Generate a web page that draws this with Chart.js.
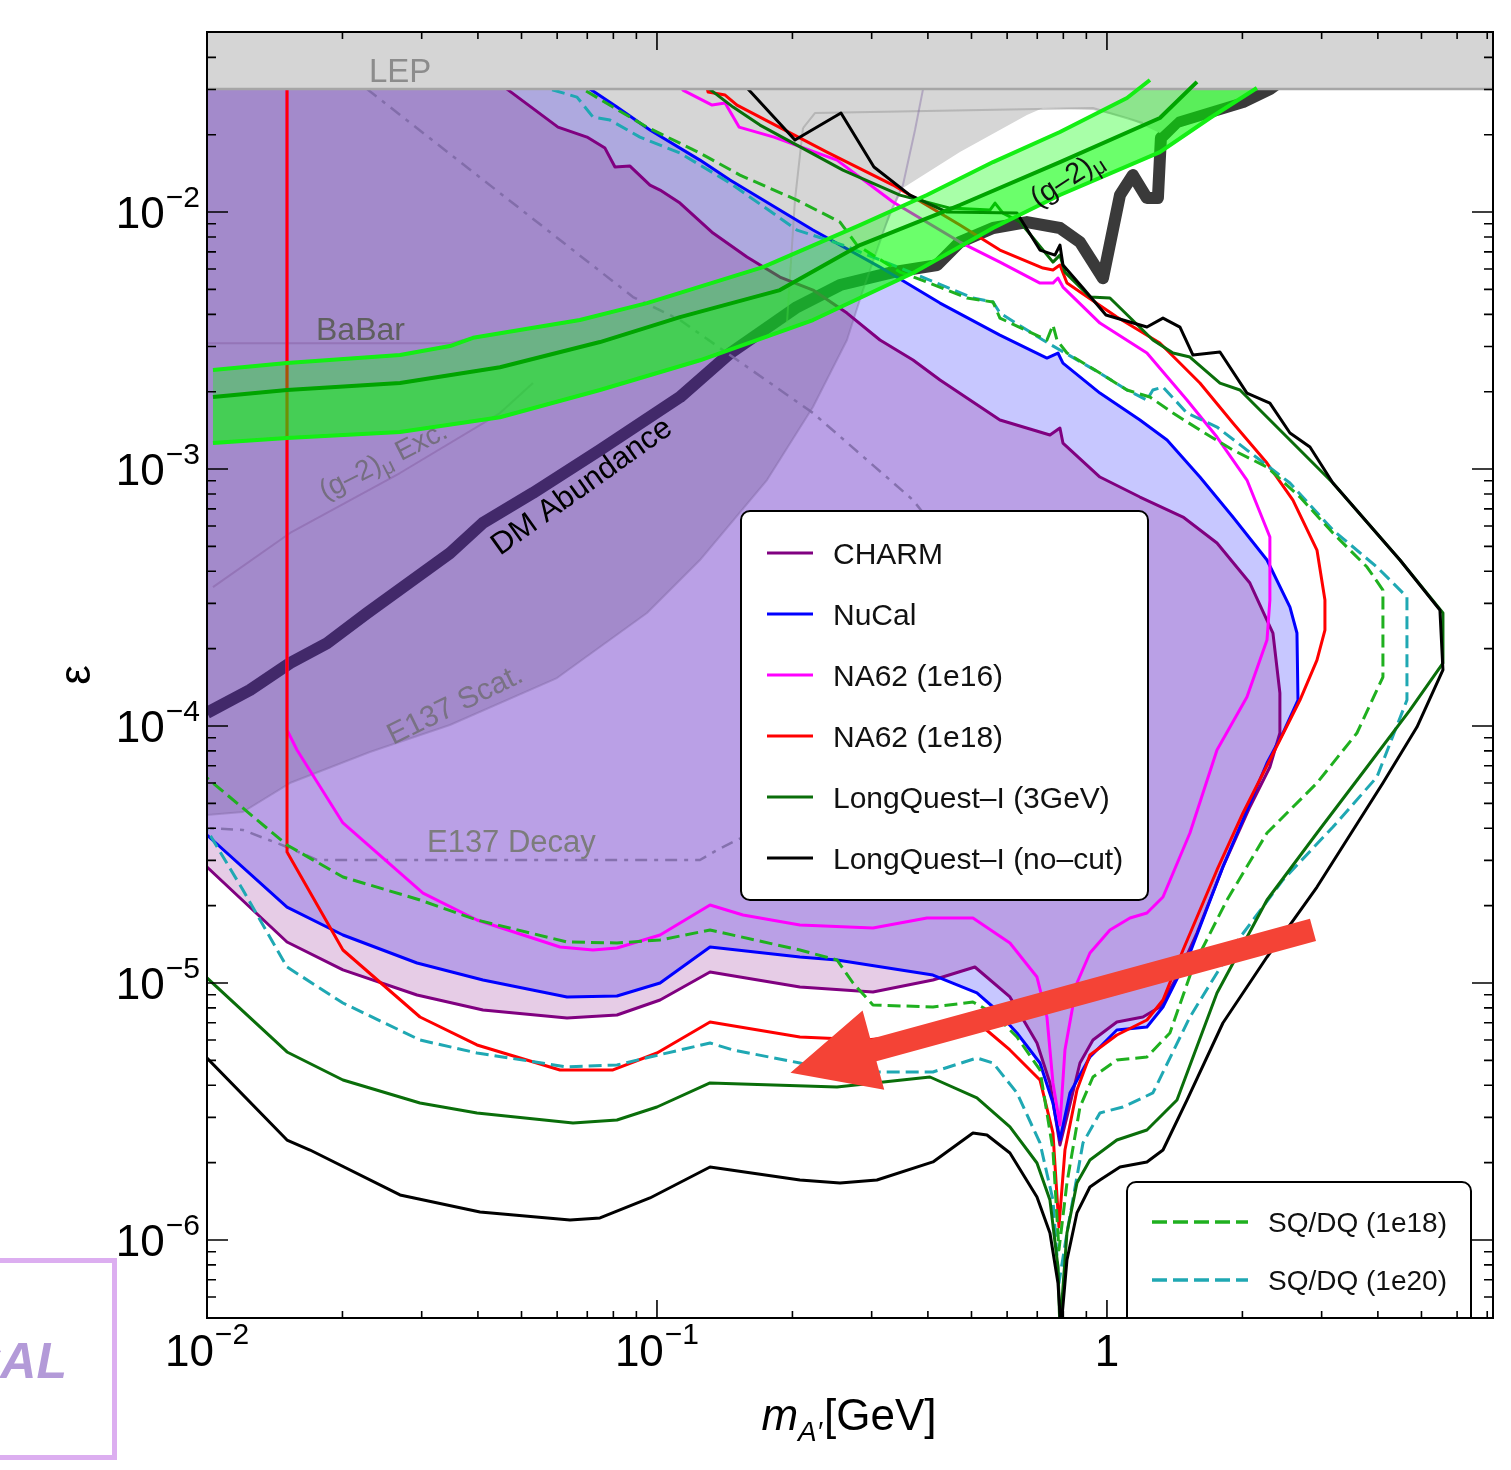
<!DOCTYPE html>
<html><head><meta charset="utf-8">
<script src="https://cdn.jsdelivr.net/npm/chart.js@4.4.1/dist/chart.umd.min.js"></script>
<style>
html,body{margin:0;padding:0;background:#fff;}
#wrap{position:relative;width:1511px;height:1470px;overflow:hidden;background:#fff;}
#c{position:absolute;left:0;top:0;width:1511px;height:1470px;}
#albox{position:absolute;left:-200px;top:1258px;width:317px;height:202px;box-sizing:border-box;border:5px solid #dcaef0;}
#altext{position:absolute;left:-200px;width:267px;top:1338px;text-align:right;font:italic bold 50px "Liberation Sans",Arial,sans-serif;color:#b39ad8;line-height:46px;white-space:nowrap;}
</style></head><body>
<div id="wrap"><canvas id="c" width="1511" height="1470"></canvas><div id="albox"></div><div id="altext">CAL</div></div>
<script>
// ---------------- axis ranges & ticks ----------------
const xMin = 0.01, xMax = 7.21, yMin = 4.97e-7, yMax = 0.0502;
const xTickValues = [0.01, 0.1, 1];
const xTickText = [['10','\u22122'],['10','\u22121'],['1','']];
const yTickValues = [1e-2, 1e-3, 1e-4, 1e-5, 1e-6];
const yTickText = [['10','\u22122'],['10','\u22123'],['10','\u22124'],['10','\u22125'],['10','\u22126']];

// ---------------- data: [m_A' (GeV), epsilon] ----------------
const lepLimit = 0.0301;

const grayRegion = [[0.0710,0.0301],[0.0815,0.02562],[0.0965,0.02085],[0.1246,0.01593],[0.1453,0.01332],[0.2222,8.511e-3],[0.2974,6.39e-3],[0.3521,0.0124],[0.4713,0.01712],[0.664,0.02384],[0.7208,0.02539],[0.9309,0.02494],[1.108,0.02322],[1.202,0.0218],[1.311,0.0203],[1.431,0.02342],[1.694,0.02562],[2.006,0.02802],[2.244,0.0311]];
const grayLineA = [[0.2111,0.02122],[0.2244,0.02428],[0.9309,0.02539],[1.202,0.0222]];
const grayLineB = [[0.1945,3.699e-3],[0.2026,0.01113],[0.2111,0.02122]];

const dmAbundance = [[0.01,1.125e-4],[0.01246,1.38e-4],[0.0153,1.76e-4],[0.01848,2.10e-4],[0.02268,2.75e-4],[0.03467,4.71e-4],[0.04105,6.17e-4],[0.05302,8.07e-4],[0.0747,1.186e-3],[0.1125,1.905e-3],[0.1453,2.82e-3],[0.2047,4.27e-3],[0.2551,5.20e-3],[0.3346,5.84e-3],[0.4193,6.22e-3],[0.4713,7.64e-3],[0.5583,8.67e-3],[0.664,9.14e-3],[0.7862,8.67e-3],[0.871,7.64e-3],[0.9797,5.53e-3],[1.069,0.01165],[1.142,0.01393],[1.227,0.01134],[1.298,0.01134],[1.318,0.0194],[1.431,0.02239],[1.694,0.02449],[2.006,0.02679],[2.302,0.0301],[2.423,0.0321]];

const e137ScatEdge = [[0.01,4.505e-5],[0.01202,4.628e-5],[0.01529,6.0e-5],[0.02302,7.921e-5],[0.03467,1.009e-4],[0.05995,1.537e-4],[0.09502,2.753e-4],[0.1246,4.425e-4],[0.1756,9.062e-4],[0.2222,1.743e-3],[0.2644,3.177e-3],[0.287,4.972e-3],[0.3294,9.911e-3],[0.3521,0.01274],[0.3745,0.02085],[0.3902,0.0301]];

const e137Decay = [[0.02268,0.0301],[0.08845,4.67e-3],[0.1125,3.80e-3],[0.2222,1.652e-3],[0.3707,7.575e-4],[0.4713,4.425e-4],[0.3467,1.055e-4],[0.2078,4.928e-5],[0.1569,3.733e-5],[0.136,3.292e-5],[0.1246,3.011e-5],[0.01756,3.011e-5],[0.01506,3.382e-5],[0.01202,3.938e-5],[0.01,4.01e-5]];
const g2Excluded = [[0.01031,3.47e-4],[0.0153,5.64e-4],[0.02685,9.65e-4],[0.04479,1.652e-3],[0.05302,2.16e-3]];
const babarLimit = [[0.01,3.09e-3],[0.03467,3.09e-3],[0.03902,3.24e-3]];

const g2Upper = [[0.01031,2.43e-3],[0.01506,2.585e-3],[0.02685,2.78e-3],[0.03467,3.01e-3],[0.03902,3.24e-3],[0.0674,3.80e-3],[0.095,4.42e-3],[0.172,6.11e-3],[0.2826,8.90e-3],[0.3981,0.01165],[0.5583,0.01565],[0.7862,0.02049],[1.108,0.02778],[1.246,0.03264]];
const g2Central = [[0.01031,1.905e-3],[0.01506,2.03e-3],[0.02685,2.16e-3],[0.04479,2.49e-3],[0.0747,3.12e-3],[0.1125,3.90e-3],[0.1876,4.97e-3],[0.2826,7.44e-3],[0.4713,0.01065],[0.7862,0.01565],[1.311,0.02323],[1.585,0.0321]];
const g2Lower = [[0.01031,1.262e-3],[0.01506,1.32e-3],[0.02685,1.393e-3],[0.04479,1.59e-3],[0.0747,2.03e-3],[0.1246,2.65e-3],[0.2222,3.80e-3],[0.3707,5.79e-3],[0.5583,8.67e-3],[0.7862,0.01165],[1.311,0.01712],[1.694,0.02323],[2.154,0.0304]];

const charm = [[0.0440,0.0340],[0.04642,0.0301],[0.06026,0.02141],[0.0699,0.01958],[0.07663,0.01774],[0.08066,0.01497],[0.0871,0.0151],[0.09647,0.01274],[0.1016,0.01218],[0.1125,0.01084],[0.1332,8.285e-3],[0.1585,6.682e-3],[0.1876,5.586e-3],[0.2222,4.972e-3],[0.2644,4.046e-3],[0.313,3.177e-3],[0.3707,2.655e-3],[0.4256,2.22e-3],[0.5783,1.551e-3],[0.747,1.356e-3],[0.7862,1.444e-3],[0.7984,1.262e-3],[0.9647,9.309e-4],[1.184,7.782e-4],[1.476,6.506e-4],[1.756,5.153e-4],[2.078,3.601e-4],[2.338,2.301e-4],[2.423,1.344e-4],[2.423,9.393e-5],[2.302,6.926e-5],[2.078,4.84e-5],[1.81,2.828e-5],[1.585,1.565e-5],[1.431,1.055e-5],[1.311,8.065e-6],[1.202,7.373e-6],[1.052,7.05e-6],[0.9309,6.0e-6],[0.871,4.883e-6],[0.8149,3.011e-6],[0.7862,2.342e-6],[0.747,4.083e-6],[0.699,5.841e-6],[0.6087,8.822e-6],[0.5088,1.154e-5],[0.4105,1.027e-5],[0.302,9.226e-6],[0.2078,9.647e-6],[0.1312,1.104e-5],[0.1016,8.588e-6],[0.08149,7.506e-6],[0.0631,7.307e-6],[0.04105,7.851e-6],[0.02929,8.982e-6],[0.02005,1.124e-5],[0.01506,1.444e-5],[0.01,2.828e-5]];

const nucal = [[0.068,0.034],[0.07098,0.0301],[0.08149,0.02562],[0.09647,0.02085],[0.1246,0.01593],[0.1453,0.01332],[0.2222,8.511e-3],[0.313,6.109e-3],[0.4256,4.425e-3],[0.5783,3.322e-3],[0.7356,2.703e-3],[0.7783,2.828e-3],[0.7984,2.585e-3],[0.9647,1.975e-3],[1.184,1.551e-3],[1.36,1.297e-3],[1.609,9.309e-4],[1.905,6.506e-4],[2.268,4.425e-4],[2.551,2.904e-4],[2.644,2.301e-4],[2.658,1.262e-4],[2.461,9.393e-5],[2.268,7.178e-5],[1.81,2.828e-5],[1.529,1.308e-5],[1.332,8.065e-6],[1.227,6.742e-6],[1.052,6.563e-6],[0.9166,5.153e-6],[0.8275,3.733e-6],[0.7862,2.449e-6],[0.7586,3.412e-6],[0.7098,4.883e-6],[0.631,6.388e-6],[0.5583,8.065e-6],[0.514,9.145e-6],[0.4105,1.074e-5],[0.2512,1.229e-5],[0.2078,1.262e-5],[0.1312,1.381e-5],[0.1016,1.0e-5],[0.08149,8.9e-6],[0.0631,8.822e-6],[0.04105,1.027e-5],[0.02929,1.196e-5],[0.02005,1.537e-5],[0.01506,1.975e-5],[0.01,3.766e-5]];

const na62e16 = [[0.01506,0.034],[0.01506,9.647e-5],[0.01585,8.065e-5],[0.02005,4.194e-5],[0.0302,2.239e-5],[0.03981,1.758e-5],[0.06088,1.381e-5],[0.07208,1.344e-5],[0.08149,1.368e-5],[0.1016,1.537e-5],[0.1312,2.012e-5],[0.1553,1.839e-5],[0.2078,1.681e-5],[0.302,1.637e-5],[0.3981,1.79e-5],[0.5037,1.79e-5],[0.6087,1.431e-5],[0.699,1.055e-5],[0.7356,7.373e-6],[0.7586,4.083e-6],[0.7862,2.802e-6],[0.8066,5.487e-6],[0.8577,1.0e-5],[0.9166,1.308e-5],[1.0154,1.608e-5],[1.125,1.79e-5],[1.227,1.872e-5],[1.332,2.161e-5],[1.529,3.834e-5],[1.756,8.065e-5],[2.047,1.297e-4],[2.268,2.161e-4],[2.302,3.093e-4],[2.302,5.437e-4],[2.047,9.062e-4],[1.756,1.332e-3],[1.506,1.856e-3],[1.227,2.828e-3],[0.9647,3.699e-3],[0.7984,5.107e-3],[0.7783,5.536e-3],[0.7586,5.293e-3],[0.7098,5.293e-3],[0.5783,6.388e-3],[0.4713,7.642e-3],[0.3346,0.01094],[0.2512,0.01593],[0.182,0.01958],[0.1522,0.02141],[0.1417,0.02655],[0.1326,0.02608],[0.1142,0.02983],[0.111,0.0326]];

const na62e18 = [[0.01506,0.034],[0.01506,3.233e-5],[0.02005,1.344e-5],[0.02974,7.373e-6],[0.03981,5.74e-6],[0.06088,4.587e-6],[0.07984,4.587e-6],[0.1,5.341e-6],[0.1312,7.05e-6],[0.2078,6.166e-6],[0.2929,6.0e-6],[0.5302,6.742e-6],[0.6087,5.487e-6],[0.7098,4.194e-6],[0.7586,2.608e-6],[0.7822,1.124e-6],[0.8066,2.239e-6],[0.8577,3.834e-6],[0.9166,5.247e-6],[1.052,6.276e-6],[1.227,7.178e-6],[1.332,8.588e-6],[1.476,1.344e-5],[1.756,2.753e-5],[2.006,4.587e-5],[2.423,8.822e-5],[2.685,1.262e-4],[2.929,1.806e-4],[3.051,2.363e-4],[3.051,3.093e-4],[2.929,4.84e-4],[2.59,7.575e-4],[2.268,1.055e-3],[1.905,1.51e-3],[1.609,2.161e-3],[1.311,3.093e-3],[1.052,3.903e-3],[0.8149,5.293e-3],[0.7862,6.22e-3],[0.7586,5.947e-3],[0.7208,6.055e-3],[0.5783,7.113e-3],[0.4713,8.9e-3],[0.3346,0.01274],[0.2387,0.01712],[0.1694,0.02342],[0.1506,0.02608],[0.1417,0.02853],[0.1299,0.0293],[0.1279,0.0326]];

const longQuest3GeV = [[0.1233,0.0326],[0.1476,0.02562],[0.1694,0.0218],[0.259,0.01457],[0.3467,0.01164],[0.4479,0.01036],[0.5495,0.01018],[0.564,0.01084],[0.5873,9.911e-3],[0.6408,9.145e-3],[0.7586,6.388e-3],[0.7862,6.802e-3],[0.8066,5.841e-3],[0.9166,4.67e-3],[1.0154,4.628e-3],[1.265,3.177e-3],[1.402,2.828e-3],[1.529,2.728e-3],[1.783,2.161e-3],[1.975,2.03e-3],[2.338,1.51e-3],[3.178,8.822e-4],[4.479,4.425e-4],[5.581,2.753e-4],[5.581,1.758e-4],[4.713,1.154e-4],[3.784,6.926e-5],[2.929,3.834e-5],[2.268,2.104e-5],[1.756,9.145e-6],[1.431,3.504e-6],[1.227,2.679e-6],[1.052,2.449e-6],[0.9166,2.048e-6],[0.8577,1.667e-6],[0.8149,1.065e-6],[0.7862,4.5e-7],[0.7783,7.851e-7],[0.747,1.431e-6],[0.699,1.993e-6],[0.6087,2.753e-6],[0.514,3.569e-6],[0.4043,4.307e-6],[0.2512,3.938e-6],[0.1312,4.083e-6],[0.1,3.292e-6],[0.08149,2.93e-6],[0.06507,2.853e-6],[0.03981,3.121e-6],[0.02974,3.412e-6],[0.02005,4.194e-6],[0.01506,5.39e-6],[0.01,1.046e-5]];

const longQuestNoCut = [[0.1529,0.0326],[0.2026,0.01906],[0.2564,0.02428],[0.3035,0.01497],[0.365,0.01164],[0.4411,0.01],[0.631,9.911e-3],[0.7098,7.113e-3],[0.7663,6.802e-3],[0.7862,7.439e-3],[0.7984,6.22e-3],[0.8845,5.062e-3],[0.9949,3.974e-3],[1.227,3.569e-3],[1.332,3.868e-3],[1.453,3.569e-3],[1.553,2.777e-3],[1.783,2.853e-3],[2.047,1.975e-3],[2.302,1.806e-3],[2.551,1.381e-3],[2.826,1.218e-3],[3.178,8.822e-4],[4.479,4.425e-4],[5.495,2.828e-4],[5.581,1.652e-4],[4.886,9.911e-5],[4.105,6.0e-5],[2.929,2.363e-5],[2.268,1.262e-5],[1.81,6.988e-6],[1.506,3.504e-6],[1.332,2.239e-6],[1.227,2.012e-6],[1.069,1.923e-6],[0.9647,1.712e-6],[0.9166,1.608e-6],[0.8577,1.274e-6],[0.8149,8.36e-7],[0.7902,4.5e-7],[0.7783,6.802e-7],[0.747,1.065e-6],[0.699,1.47e-6],[0.6087,2.18e-6],[0.5412,2.562e-6],[0.5037,2.608e-6],[0.4105,2.012e-6],[0.3082,1.712e-6],[0.2551,1.667e-6],[0.2078,1.712e-6],[0.1312,1.923e-6],[0.09647,1.457e-6],[0.0747,1.218e-6],[0.06408,1.196e-6],[0.04043,1.285e-6],[0.02685,1.497e-6],[0.01694,2.239e-6],[0.01506,2.449e-6],[0.01,5.107e-6]];

const sqdq1e18 = [[0.066,0.034],[0.06849,0.0301],[0.07984,0.02562],[0.09502,0.02141],[0.1246,0.01697],[0.1529,0.01393],[0.2047,0.01113],[0.2551,9.145e-3],[0.2783,7.439e-3],[0.3467,5.841e-3],[0.3981,5.341e-3],[0.4886,4.628e-3],[0.5583,4.465e-3],[0.5783,3.868e-3],[0.7356,3.177e-3],[0.7586,3.633e-3],[0.7743,3.177e-3],[0.8149,2.828e-3],[0.9647,2.363e-3],[1.108,2.03e-3],[1.246,1.906e-3],[1.402,1.652e-3],[1.609,1.418e-3],[1.905,1.186e-3],[2.268,1.018e-3],[2.685,7.782e-4],[3.178,5.636e-4],[3.784,4.156e-4],[4.105,3.382e-4],[4.105,1.551e-4],[3.594,9.393e-5],[2.929,6.0e-5],[2.268,3.834e-5],[1.848,2.104e-5],[1.553,1.154e-5],[1.38,6.388e-6],[1.227,5.153e-6],[1.052,5.016e-6],[0.9309,4.307e-6],[0.871,3.292e-6],[0.8149,1.667e-6],[0.7822,9.145e-7],[0.7586,2.239e-6],[0.7098,4.587e-6],[0.631,6.166e-6],[0.5583,7.642e-6],[0.5037,8.436e-6],[0.4105,8.065e-6],[0.302,8.211e-6],[0.2727,1.0e-5],[0.2512,1.229e-5],[0.2078,1.344e-5],[0.1312,1.608e-5],[0.1016,1.47e-5],[0.08149,1.431e-5],[0.0631,1.444e-5],[0.03981,1.758e-5],[0.02974,2.104e-5],[0.02005,2.585e-5],[0.01506,3.443e-5],[0.01,6.276e-5]];

const sqdq1e20 = [[0.055,0.034],[0.05783,0.0301],[0.06641,0.02802],[0.07208,0.02342],[0.07863,0.0228],[0.09166,0.01958],[0.1125,0.01697],[0.1453,0.01297],[0.2047,8.511e-3],[0.259,7.439e-3],[0.3346,6.22e-3],[0.5037,4.628e-3],[0.5583,4.465e-3],[0.5783,4.046e-3],[0.7208,3.177e-3],[0.7862,2.904e-3],[0.9647,2.363e-3],[1.108,2.03e-3],[1.227,1.856e-3],[1.265,2.03e-3],[1.332,2.085e-3],[1.506,1.652e-3],[1.756,1.457e-3],[2.188,1.084e-3],[2.551,8.822e-4],[3.178,5.789e-4],[3.981,4.156e-4],[4.642,3.177e-4],[4.642,1.262e-4],[3.981,6.332e-5],[3.178,4.046e-5],[2.461,2.517e-5],[1.905,1.381e-5],[1.529,7.373e-6],[1.265,3.733e-6],[1.085,3.292e-6],[0.9647,3.121e-6],[0.8845,2.385e-6],[0.8149,1.065e-6],[0.7822,6.802e-7],[0.7586,1.431e-6],[0.7098,2.385e-6],[0.631,3.733e-6],[0.5583,4.883e-6],[0.514,5.107e-6],[0.4105,4.505e-6],[0.2512,4.505e-6],[0.2078,4.883e-6],[0.1476,5.487e-6],[0.1312,5.841e-6],[0.09647,5.153e-6],[0.08149,4.797e-6],[0.0631,4.712e-6],[0.03981,5.341e-6],[0.02974,6.0e-6],[0.02005,8.36e-6],[0.01506,1.154e-5],[0.01202,2.301e-5],[0.01,3.938e-5]];

// legend entries
const legendMainLabels = ['CHARM','NuCal','NA62 (1e16)','NA62 (1e18)','LongQuest\u2013I (3GeV)','LongQuest\u2013I (no\u2013cut)'];
const legendMainColors = ['#800080','#0000ff','#ff00ff','#ff0000','#0a6e0a','#000000'];
const legendDashLabels = ['SQ/DQ (1e18)','SQ/DQ (1e20)'];
const legendDashColors = ['#1fb01f','#1fa8b3'];

// annotation arrow (data coordinates)
const arrowTail = [2.87, 1.61e-5];
const arrowTip = [0.198, 4.47e-6];

// in-plot text labels, anchored in data coordinates
const plotLabels = [
  {parts:[['LEP',1,0]], at:[0.02291,0.03205], ang:0, size:33, color:'#8c8c8c'},
  {parts:[['BaBar',1,0]], at:[0.01747,3.177e-3], ang:0, size:32, color:'#5f5f5f'},
  {parts:[['(g\u20132)',1,0],['\u03bc',0.75,6],[' Exc.',1,0]], at:[0.01829,7.575e-4], ang:-27, size:28, color:'rgba(100,100,100,0.72)'},
  {parts:[['DM Abundance',1,0]], at:[0.04479,4.587e-4], ang:-35.5, size:31, color:'#000'},
  {parts:[['E137 Scat.',1,0]], at:[0.02591,8.436e-5], ang:-26, size:30, color:'rgba(105,105,105,0.72)'},
  {parts:[['E137 Decay',1,0]], at:[0.03082,3.233e-5], ang:0, size:31, color:'#7c7c7c'},
  {parts:[['(g\u20132)',1,0],['\u03bc',0.75,6]], at:[0.7026,0.01036], ang:-33, size:29, color:'#111'}
];

// ---------------- build datasets ----------------
const OFFL = 0.004, OFFR = 20, OFFT = 0.2;
const toXY = a => a.map(p => ({x:p[0], y:p[1]}));
const closeUpLeft = c => { const f=c[0], l=c[c.length-1]; return [...c,[OFFL,l[1]],[OFFL,OFFT],[f[0],OFFT]]; };
const closeViaTop = c => { const f=c[0], l=c[c.length-1]; return [...c,[l[0],OFFT],[OFFL,OFFT],[OFFL,f[1]]]; };
const closeTop = c => { const f=c[0], l=c[c.length-1]; return [...c,[l[0],OFFT],[f[0],OFFT]]; };

function L(arr, color, width, order, dash) {
  return {type:'line', data:toXY(arr), borderColor:color, borderWidth:width, borderDash:dash||[],
    fill:false, pointRadius:0, tension:0, order, clip:0, borderJoinStyle:'round', borderCapStyle:'butt'};
}
function S(arr, color, order) {
  return {type:'line', data:toXY(arr), borderColor:'rgba(0,0,0,0)', borderWidth:0, backgroundColor:color,
    fill:'shape', pointRadius:0, tension:0, order, clip:0};
}

// order: larger = further back
const datasets = [
  L(dmAbundance, '#3a3a3a', 12, 90),
  S(closeUpLeft(nucal), 'rgba(0,0,255,0.22)', 85),
  S(closeUpLeft(charm), 'rgba(128,0,128,0.2)', 80),
  S(closeViaTop(e137ScatEdge), 'rgba(80,60,110,0.22)', 75),
  S(closeTop(grayRegion), '#d6d6d6', 72),
  L(grayLineA, 'rgba(150,150,150,0.5)', 2, 71),
  L(grayLineB, 'rgba(150,150,150,0.5)', 2, 71),
  L(e137ScatEdge, 'rgba(125,100,160,0.4)', 2, 70),
  L(e137Decay, 'rgba(125,105,165,0.85)', 2.5, 60, [12,7,4,7]),
  L(g2Excluded, 'rgba(130,90,160,0.45)', 2, 59),
  L(babarLimit, 'rgba(130,90,160,0.45)', 2, 59),
  L(charm, '#800080', 3, 50),
  L(nucal, '#0000ff', 3, 49),
  L(na62e16, '#ff00ff', 3, 48),
  L(na62e18, '#ff0000', 3, 47),
  L(sqdq1e20, '#1fa8b3', 3, 46, [13,6]),
  L(sqdq1e18, '#1fb01f', 3, 45, [13,6]),
  L(longQuest3GeV, '#0a6e0a', 3, 44),
  L(longQuestNoCut, '#000000', 3, 43),
  S([...g2Central, ...g2Lower.slice().reverse()], 'rgba(0,255,0,0.58)', 35),
  S([...g2Upper, ...g2Central.slice().reverse()], 'rgba(0,255,0,0.34)', 34),
  S([[OFFL,lepLimit],[OFFR,lepLimit],[OFFR,OFFT],[OFFL,OFFT]], '#d5d5d5', 30),
  L([[OFFL,lepLimit],[OFFR,lepLimit]], '#a6a6a6', 2.5, 29),
  L(g2Lower, '#14ee14', 4, 20),
  L(g2Upper, '#14ee14', 4, 19),
  L(g2Central, '#00a400', 4, 18)
];

// ---------------- decorations plugin ----------------
const FONT = '"Liberation Sans", Arial, Helvetica, sans-serif';
function rr(ctx,x,y,w,h,r){ctx.beginPath();ctx.moveTo(x+r,y);ctx.arcTo(x+w,y,x+w,y+h,r);ctx.arcTo(x+w,y+h,x,y+h,r);ctx.arcTo(x,y+h,x,y,r);ctx.arcTo(x,y,x+w,y,r);ctx.closePath();}

const deco = {
  id:'deco',
  afterDraw(chart){
    const ctx = chart.ctx, a = chart.chartArea, xs = chart.scales.x, ys = chart.scales.y;
    const P = (m,e) => [xs.getPixelForValue(m), ys.getPixelForValue(e)];
    ctx.save();
    // in-plot labels
    for (const lb of plotLabels){
      const [px,py] = P(lb.at[0], lb.at[1]);
      ctx.save(); ctx.translate(px,py); ctx.rotate(lb.ang*Math.PI/180);
      ctx.fillStyle = lb.color; ctx.textBaseline='alphabetic'; ctx.textAlign='left';
      let cx = 0;
      for (const [t,s,dy] of lb.parts){
        ctx.font = (lb.size*s).toFixed(1)+'px '+FONT;
        ctx.fillText(t, cx, dy);
        cx += ctx.measureText(t).width;
      }
      ctx.restore();
    }
    // main legend
    ctx.fillStyle='#fff'; ctx.strokeStyle='#000'; ctx.lineWidth=2;
    rr(ctx,741,511,407,389,9); ctx.fill(); ctx.stroke();
    ctx.font='30px '+FONT; ctx.textAlign='left'; ctx.textBaseline='alphabetic';
    legendMainLabels.forEach((t,i)=>{
      const y = 553 + i*61;
      ctx.strokeStyle=legendMainColors[i]; ctx.lineWidth=3; ctx.setLineDash([]);
      ctx.beginPath(); ctx.moveTo(767,y); ctx.lineTo(813,y); ctx.stroke();
      ctx.fillStyle='#111'; ctx.fillText(t, 833, y+11);
    });
    // dashed legend (clipped at the x axis)
    ctx.save(); ctx.beginPath(); ctx.rect(0,0,1511,a.bottom); ctx.clip();
    ctx.fillStyle='#fff'; ctx.strokeStyle='#000'; ctx.lineWidth=2;
    rr(ctx,1127,1182,344,170,9); ctx.fill(); ctx.stroke();
    ctx.restore();
    ctx.font='28px '+FONT;
    legendDashLabels.forEach((t,i)=>{
      const y = 1222 + i*58;
      ctx.strokeStyle=legendDashColors[i]; ctx.lineWidth=3.5; ctx.setLineDash([15,6]);
      ctx.beginPath(); ctx.moveTo(1152,y); ctx.lineTo(1248,y); ctx.stroke();
      ctx.setLineDash([]);
      ctx.fillStyle='#111'; ctx.fillText(t, 1268, y+10);
    });
    // arrow
    {
      const [tx,ty] = P(arrowTail[0],arrowTail[1]); const [hx,hy] = P(arrowTip[0],arrowTip[1]);
      const dx=tx-hx, dy=ty-hy, len=Math.hypot(dx,dy), ux=dx/len, uy=dy/len, nx=-uy, ny=ux;
      const hl=86, hw=41, sw=11.5;
      const bx=hx+ux*hl, by=hy+uy*hl;
      ctx.fillStyle='#f44336';
      ctx.beginPath(); ctx.moveTo(hx,hy);
      ctx.lineTo(bx+nx*hw,by+ny*hw); ctx.lineTo(bx+nx*sw,by+ny*sw);
      ctx.lineTo(tx+nx*sw,ty+ny*sw); ctx.lineTo(tx-nx*sw,ty-ny*sw);
      ctx.lineTo(bx-nx*sw,by-ny*sw); ctx.lineTo(bx-nx*hw,by-ny*hw);
      ctx.closePath(); ctx.fill();
    }
    // frame
    ctx.setLineDash([]); ctx.strokeStyle='#000'; ctx.lineWidth=2;
    ctx.strokeRect(a.left, a.top, a.right-a.left, a.bottom-a.top);
    // ticks
    ctx.lineWidth=1.6;
    ctx.beginPath();
    for (let k=-2;k<=0;k++) for (let d=1;d<=9;d++){
      const v=d*Math.pow(10,k); if (v<xMin*0.999||v>xMax) continue;
      const px=xs.getPixelForValue(v), len=(d===1)?18:7;
      ctx.moveTo(px,a.bottom); ctx.lineTo(px,a.bottom-len);
      ctx.moveTo(px,a.top); ctx.lineTo(px,a.top+len);
    }
    for (let k=-7;k<=-2;k++) for (let d=1;d<=9;d++){
      const v=d*Math.pow(10,k); if (v<yMin*1.03||v>yMax*0.97) continue;
      const py=ys.getPixelForValue(v), len=(d===1)?21:9;
      ctx.moveTo(a.left,py); ctx.lineTo(a.left+len,py);
      ctx.moveTo(a.right,py); ctx.lineTo(a.right-len,py);
    }
    ctx.stroke();
    // tick labels
    ctx.fillStyle='#000'; ctx.textAlign='left'; ctx.textBaseline='alphabetic';
    xTickValues.forEach((v,i)=>{
      const [b,e]=xTickText[i]; const px=xs.getPixelForValue(v);
      ctx.font='44px '+FONT; const wb=ctx.measureText(b).width;
      ctx.font='30px '+FONT; const we=e?ctx.measureText(e).width+1:0;
      const x0=px-(wb+we)/2;
      ctx.font='44px '+FONT; ctx.fillText(b,x0,a.bottom+48);
      if(e){ctx.font='30px '+FONT; ctx.fillText(e,x0+wb+1,a.bottom+26);}
    });
    yTickValues.forEach((v,i)=>{
      const [b,e]=yTickText[i]; const py=ys.getPixelForValue(v);
      ctx.font='30px '+FONT; const we=ctx.measureText(e).width;
      ctx.fillText(e, 200-we, py-5);
      ctx.font='44px '+FONT; const wb=ctx.measureText(b).width;
      ctx.fillText(b, 200-we-1-wb, py+16);
    });
    // axis titles
    {
      const cx=849;
      ctx.font='italic 44px '+FONT; const wm=ctx.measureText('m').width;
      ctx.font='italic 28px '+FONT; const wa=ctx.measureText('A\u2032').width;
      ctx.font='44px '+FONT; const wg=ctx.measureText('[GeV]').width;
      let x0=cx-(wm+wa+2+wg)/2; const by=a.bottom+112;
      ctx.font='italic 44px '+FONT; ctx.fillText('m',x0,by); x0+=wm;
      ctx.font='italic 28px '+FONT; ctx.fillText('A\u2032',x0,by+11); x0+=wa+2;
      ctx.font='44px '+FONT; ctx.fillText('[GeV]',x0,by);
    }
    ctx.save(); ctx.translate(90,(a.top+a.bottom)/2); ctx.rotate(-Math.PI/2);
    ctx.font='44px '+FONT; ctx.textAlign='center'; ctx.fillText('\u03b5',0,0); ctx.restore();
    ctx.restore();
  }
};

new Chart(document.getElementById('c').getContext('2d'), {
  type:'line',
  data:{datasets},
  options:{
    responsive:false, animation:false, devicePixelRatio:1, events:[],
    layout:{padding:{left:0,right:18,top:32,bottom:0}},
    plugins:{legend:{display:false}, tooltip:{enabled:false}},
    elements:{point:{radius:0}, line:{tension:0}},
    scales:{
      x:{type:'logarithmic', min:xMin, max:xMax, bounds:'data', grid:{display:false}, border:{display:false}, ticks:{display:false}, afterFit(s){s.height=152;}},
      y:{type:'logarithmic', min:yMin, max:yMax, bounds:'data', grid:{display:false}, border:{display:false}, ticks:{display:false}, afterFit(s){s.width=207;}}
    }
  },
  plugins:[deco]
});
</script>
</body></html>
